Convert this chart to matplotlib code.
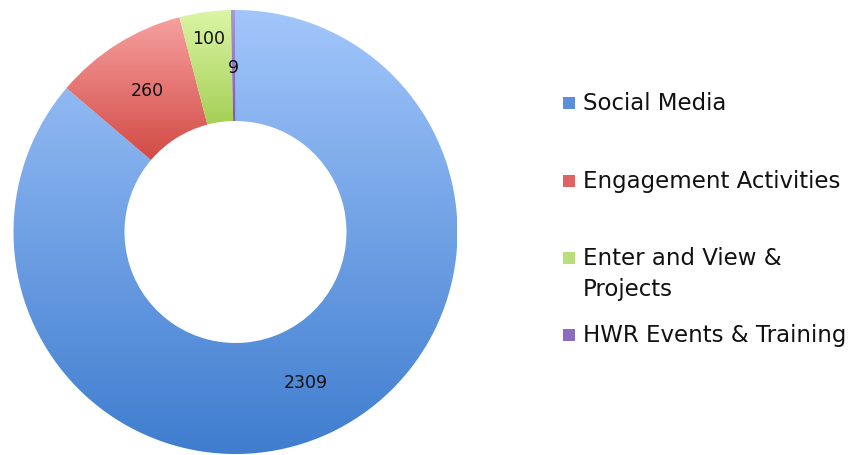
import numpy as np
import matplotlib.pyplot as plt
from matplotlib.colors import LinearSegmentedColormap
from matplotlib.patches import Rectangle

# ---------------- data ----------------
categories = ['Social Media', 'Engagement Activities', 'Enter and View &\nProjects',
              'HWR Events & Training']
values = [2309, 260, 100, 9]
top_colors = ['#a2c6fb', '#f6a09f', '#dcf5a6', '#a99ad8']
bottom_colors = ['#3f7dcf', '#d24a45', '#a5cf55', '#7a5cb0']
legend_colors = ['#5b8fdc', '#de6461', '#b9de7a', '#8c6cc0']
# --------------------------------------

W, H = 856, 455
fig = plt.figure(figsize=(W / 100, H / 100), dpi=100)
fig.patch.set_facecolor('white')

cx, cy, R = 235.5, 232, 222
ax = fig.add_axes([(cx - R) / W, (H - cy - R) / H, 2 * R / W, 2 * R / H])

wedges, _ = ax.pie(values, startangle=90, counterclock=False, radius=1,
                   wedgeprops=dict(width=0.5, linewidth=0))
ax.set_aspect('equal')
ax.axis('off')

# vertical gradient fill in each slice
for w, c0, c1 in zip(wedges, top_colors, bottom_colors):
    w.set_facecolor('none')
    bb = w.get_path().get_extents(w.get_patch_transform())
    cmap = LinearSegmentedColormap.from_list('g', [c1, c0])
    grad = np.linspace(0, 1, 256).reshape(-1, 1)
    im = ax.imshow(grad, cmap=cmap, origin='lower', aspect='auto',
                   extent=[bb.x0, bb.x1, bb.y0, bb.y1], zorder=1)
    im.set_clip_path(w)
ax.set_xlim(-1, 1)
ax.set_ylim(-1, 1)

# value labels
radii = [0.75, 0.75, 0.88, 0.74]
for w, v, r in zip(wedges, values, radii):
    ang = np.deg2rad((w.theta1 + w.theta2) / 2)
    ax.text(r * np.cos(ang), r * np.sin(ang), str(v), ha='center', va='center',
            fontsize=12.5, color='#111111', zorder=3)

# legend
leg_y = [103, 181, 258, 335]
for lab, col, y in zip(categories, legend_colors, leg_y):
    fig.patches.append(Rectangle((563 / W, 1 - (y + 6) / H), 12 / W, 12 / H,
                                 transform=fig.transFigure, facecolor=col,
                                 edgecolor='none'))
    fig.text(583 / W, 1 - (y - 11) / H, lab, fontsize=16.5, color='#111111',
             ha='left', va='top', linespacing=1.45)

fig.savefig('out.png', dpi=100)
